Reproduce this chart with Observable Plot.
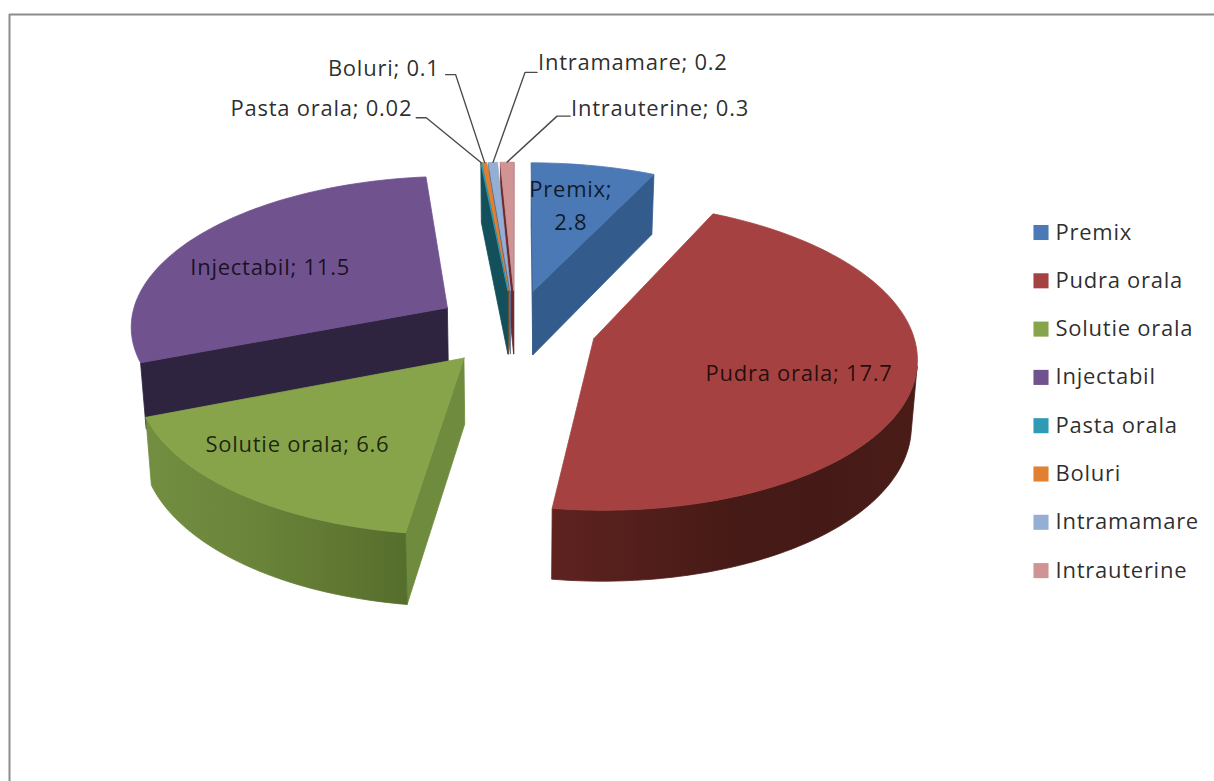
<!DOCTYPE html>
<html>
<head>
<meta charset="utf-8">
<style>html,body{margin:0;padding:0;background:#fff}svg{display:block}svg text{letter-spacing:.75px}</style>
<script src="https://cdn.jsdelivr.net/npm/d3@7"></script>
<script src="https://cdn.jsdelivr.net/npm/@observablehq/plot@0.6"></script>
</head>
<body>
<div id="chart"></div>
<script>
// ---- data
const categories = ["Premix","Pudra orala","Solutie orala","Injectabil","Pasta orala","Boluri","Intramamare","Intrauterine"];
const values = [2.8,17.7,6.6,11.5,0.02,0.1,0.2,0.3];
const valueLabels = ["2.8","17.7","6.6","11.5","0.02","0.1","0.2","0.3"];

// ---- styles
const topColors  = ["#4a79b5","#a54241","#87a44b","#70528f","#2f9ab5","#e08030","#95aed4","#d19494"];
const faceColors = ["#335c8c","#4e1e1b","#6f8b3e","#2f2440","#14505c","#8a4a18","#5a6f90","#6e2a2c"];
// outer wall shading, left to right on screen
const wallStops = {
  1:["#5e2320","#521e1b","#461a16","#451a16","#4a1c18"],
  2:["#728e40","#6c873c","#627a33","#566e2c"]
};

// ---- 3-D view of the exploded pie (camera constants)
const W = 1214, H = 781;
const view = {cx:515, cy:327, fx:318, fy:150, persp:0.11, depth:65, shrink:0.985, explode:0.255};
const wallRange = [80,250]; // angles whose rim shows a wall
const total = d3.sum(values);
const ends = Array.from(d3.cumsum(values));
const slices = categories.map((name,i)=>{
  const a0 = (i?ends[i-1]:0)/total*360, a1 = ends[i]/total*360, mid=(a0+a1)/2;
  return {i,name,a0,a1,mid,
    ex:view.explode*Math.sin(mid*Math.PI/180),
    ey:view.explode*Math.cos(mid*Math.PI/180)};
});
function project(s,deg,r,z=0){
  const t=deg*Math.PI/180, X=s.ex+r*Math.sin(t), Y=s.ey+r*Math.cos(t), d=1+view.persp*Y, k=z?view.shrink:1;
  return [view.cx+k*view.fx*X/d, view.cy-k*view.fy*Y/d+z*view.depth/d];
}
const polys=[]; let pid=0; const gradients=[];
function poly(fill,pts){const id=pid++; [...pts,pts[0]].forEach(p=>polys.push({id,fill,x:p[0],y:p[1]}));}
const area=p=>d3.polygonArea(p);
[...slices].sort((a,b)=>b.ey-a.ey).forEach(s=>{
  const n=Math.max(2,Math.ceil((s.a1-s.a0)/1.5));
  const angs=d3.range(n+1).map(j=>s.a0+(s.a1-s.a0)*j/n);
  // cut faces
  [[s.a0,1],[s.a1,-1]].forEach(([a,sgn])=>{
    const q=[project(s,a,0),project(s,a,1),project(s,a,1,1),project(s,a,0,1)];
    if(area(q)*sgn>0) poly(faceColors[s.i],q);
  });
  // outer wall, one shape with a left-to-right gradient
  const shown=angs.filter((a,j)=>{
    if(a<wallRange[0]||a>wallRange[1]||j===n) return a>=wallRange[0]&&a<=wallRange[1]&&j===n;
    const b=angs[j+1];
    return area([project(s,a,1),project(s,b,1),project(s,b,1,1),project(s,a,1,1)])>0;
  });
  if(shown.length>1 && wallStops[s.i]){
    const q=[...shown.map(a=>project(s,a,1)),...[...shown].reverse().map(a=>project(s,a,1,1))];
    const [x1,x2]=d3.extent(q,p=>p[0]);
    gradients.push({id:"wall"+s.i,x1,x2,stops:wallStops[s.i]});
    poly(`url(#wall${s.i})`,q);
  }
  // top face
  poly(topColors[s.i],[project(s,s.a0,0),...angs.map(a=>project(s,a,1))]);
});

// ---- label layout
const inside = [
  {i:0,r:0.65,dx:-3,dy:-4,text:"Premix;\n"+valueLabels[0]},
  {i:1,r:0.65,dx:0,dy:2,text:categories[1]+"; "+valueLabels[1]},
  {i:2,r:0.65,dx:-24,dy:-1,text:categories[2]+"; "+valueLabels[2]},
  {i:3,r:0.7,dx:0,dy:8,text:categories[3]+"; "+valueLabels[3]}
].map(l=>{const p=project(slices[l.i],slices[l.i].mid,l.r);return {...l,x:p[0]+l.dx,y:p[1]+l.dy};});
const outside = [
  {i:4,ex:-55,ey:-45,stub:-10,tx:-4,ty:-9,anchor:"end"},
  {i:5,ex:-29,ey:-88,stub:-10,tx:-6,ty:-6,anchor:"end"},
  {i:6,ex:32,ey:-90,stub:12,tx:1,ty:-9,anchor:"start"},
  {i:7,ex:50,ey:-46,stub:13,tx:1,ty:-7,anchor:"start"}
].map(l=>{
  const p=project(slices[l.i],slices[l.i].mid,1), e=[p[0]+l.ex,p[1]+l.ey], st=[e[0]+l.stub,e[1]];
  return {...l,pts:[p,e,st],x:st[0]+l.tx,y:st[1]+l.ty,text:categories[l.i]+"; "+valueLabels[l.i]};
});
const leaders = outside.flatMap(l=>l.pts.map(p=>({id:l.i,x:p[0],y:p[1]})));
const legendRows = categories.map((name,i)=>({name,color:topColors[i],y:232+i*48.3}));
const font={fontFamily:"'Open Sans', sans-serif",fontSize:22};

const plot = Plot.plot({
  width:W,height:H,margin:0,
  x:{domain:[0,W],range:[0,W],axis:null},
  y:{domain:[0,H],range:[0,H],axis:null},
  color:{type:"identity"},
  style:{background:"#fff"},
  marks:[
    Plot.ruleX([9],{y1:14,y2:H,stroke:"#8c8c8c",strokeWidth:2}),
    Plot.ruleY([14],{x1:9,x2:W,stroke:"#8c8c8c",strokeWidth:2}),
    Plot.line(polys,{x:"x",y:"y",z:"id",fill:"fill",stroke:"fill",strokeWidth:0.8}),
    Plot.line(leaders,{x:"x",y:"y",z:"id",stroke:"#4a4a4a",strokeWidth:1.4}),
    Plot.text(inside,{x:"x",y:"y",text:"text",lineHeight:1.5,fill:"#000",fillOpacity:0.78,...font}),
    Plot.text(outside.filter(d=>d.anchor==="end"),{x:"x",y:"y",text:"text",textAnchor:"end",fill:"#000",fillOpacity:0.84,...font}),
    Plot.text(outside.filter(d=>d.anchor==="start"),{x:"x",y:"y",text:"text",textAnchor:"start",fill:"#000",fillOpacity:0.84,...font}),
    Plot.dot(legendRows,{x:()=>1040.5,y:"y",symbol:"square",r:8.5,fill:"color"}),
    Plot.text(legendRows,{x:()=>1055,y:"y",text:"name",textAnchor:"start",fill:"#000",fillOpacity:0.84,...font})
  ]
});
// gradient definitions for the walls
const defs=d3.select(plot).insert("defs",":first-child");
gradients.forEach(g=>{
  const lg=defs.append("linearGradient").attr("id",g.id).attr("gradientUnits","userSpaceOnUse")
    .attr("x1",g.x1).attr("x2",g.x2).attr("y1",0).attr("y2",0);
  g.stops.forEach((c,k)=>lg.append("stop").attr("offset",k/(g.stops.length-1)).attr("stop-color",c));
});
document.getElementById("chart").append(plot);
</script>
</body>
</html>
